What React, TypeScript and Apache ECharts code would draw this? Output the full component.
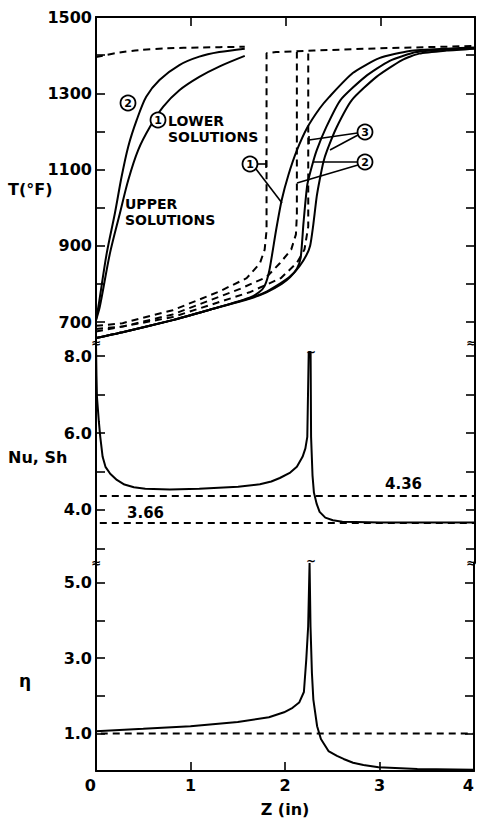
import { useEffect, useRef } from "react";
import * as echarts from "echarts";

// ---------- axis values ----------
const zTicks = [0, 1, 2, 3, 4];
const tTickVals = [700, 800, 900, 1000, 1100, 1200, 1300, 1400, 1500];
const tLabelVals = [700, 900, 1100, 1300, 1500];
const nuTickVals = [3, 4, 5, 6, 7, 8];
const nuLabelVals = [4, 6, 8];
const etaTickVals = [1, 2, 3, 4, 5];
const etaLabelVals = [1, 3, 5];

// ---------- T(°F) panel ----------
const upperSol2 = [
  [0, 705], [0.025, 740], [0.113, 880], [0.2, 986], [0.27, 1081], [0.34, 1160],
  [0.43, 1230], [0.53, 1291], [0.67, 1335], [0.88, 1374], [1.09, 1396], [1.3, 1408], [1.57, 1417],
];
const upperSol1 = [
  [0, 705], [0.04, 740], [0.147, 880], [0.253, 986], [0.34, 1072], [0.445, 1151],
  [0.57, 1212], [0.71, 1265], [0.88, 1308], [1.09, 1343], [1.3, 1370], [1.57, 1398],
];
const upperDashed = [
  [0, 1395], [0.1, 1400], [0.25, 1407], [0.45, 1413], [0.75, 1418], [1.1, 1420], [1.57, 1422],
];
const lowerSol1 = [
  [0, 658], [0.28, 673], [0.81, 705], [1.2, 732], [1.62, 764], [1.72, 778], [1.78, 795],
  [1.83, 836], [1.9, 940], [1.96, 1020], [2.03, 1085], [2.12, 1150], [2.23, 1210], [2.36, 1260],
  [2.46, 1290], [2.71, 1353], [2.99, 1392], [3.31, 1411], [3.7, 1417], [4, 1420],
];
const lowerSol2 = [
  [0, 658], [0.28, 673], [0.81, 705], [1.2, 732], [1.62, 762], [1.8, 780], [1.95, 802],
  [2.05, 820], [2.12, 840], [2.16, 868], [2.19, 960], [2.23, 1060], [2.28, 1110], [2.33, 1151],
  [2.43, 1211], [2.58, 1282], [2.84, 1343], [3.1, 1385], [3.38, 1408], [3.7, 1415], [4, 1419],
];
const lowerSol3 = [
  [0, 658], [0.28, 673], [0.81, 705], [1.2, 732], [1.62, 761], [1.8, 778], [1.96, 800],
  [2.05, 818], [2.15, 847], [2.22, 875], [2.26, 900], [2.29, 949], [2.33, 1030], [2.36, 1072],
  [2.4, 1120], [2.44, 1151], [2.54, 1211], [2.7, 1282], [2.96, 1343], [3.23, 1387], [3.41, 1404],
  [3.7, 1412], [4, 1417],
];
const lowerDash1 = [
  [0, 690], [0.28, 697], [0.81, 731], [1.3, 780], [1.59, 815], [1.73, 854], [1.78, 890],
  [1.8, 940], [1.8, 1405], [1.9, 1408], [2.3, 1412], [3, 1418], [4, 1424],
];
const lowerDash2 = [
  [0, 682], [0.28, 688], [0.81, 720], [1.52, 787], [1.8, 818], [1.94, 854], [2.06, 890],
  [2.11, 930], [2.12, 980], [2.12, 1408],
];
const lowerDash3 = [
  [0, 675], [0.81, 713], [1.62, 778], [1.95, 815], [2.12, 855], [2.2, 890], [2.24, 950],
  [2.24, 1410],
];

// ---------- Nu, Sh panel ----------
const nuCurve = [
  [0, 8.34], [0.005, 7.5], [0.01, 6.94], [0.03, 6.3], [0.045, 5.9], [0.07, 5.38], [0.1, 5.12],
  [0.15, 4.94], [0.22, 4.78], [0.3, 4.66], [0.4, 4.59], [0.52, 4.55], [0.78, 4.53], [1.09, 4.55],
  [1.5, 4.6], [1.73, 4.67], [1.85, 4.74], [1.94, 4.83], [2.05, 4.97], [2.12, 5.12], [2.18, 5.38],
  [2.21, 5.6], [2.23, 5.9], [2.245, 8.1], [2.265, 8.1], [2.27, 5.9], [2.285, 4.9], [2.3, 4.45],
  [2.33, 4.15], [2.36, 3.95], [2.42, 3.8], [2.5, 3.73], [2.6, 3.69], [3.0, 3.67], [4.0, 3.67],
];
const nuLimit = [[0.04, 4.36], [4, 4.36]];
const shLimit = [[0.04, 3.66], [4, 3.66]];

// ---------- eta panel ----------
const etaCurve = [
  [0, 1.06], [0.5, 1.12], [1.0, 1.19], [1.5, 1.3], [1.83, 1.43], [1.99, 1.56], [2.08, 1.68],
  [2.15, 1.82], [2.2, 2.1], [2.225, 2.96], [2.245, 3.84], [2.26, 5.53], [2.27, 3.84],
  [2.285, 2.6], [2.3, 1.9], [2.34, 1.19], [2.38, 0.85], [2.46, 0.53], [2.55, 0.4], [2.62, 0.32],
  [2.72, 0.22], [2.83, 0.16], [2.99, 0.1], [3.4, 0.05], [4, 0.03],
];
const etaRef = [[0.05, 1.0], [4, 1.0]];

const FONT = "DejaVu Sans";

export default function App() {
  const ref = useRef<HTMLDivElement>(null);

  useEffect(() => {
    const chart = echarts.init(ref.current!, null, { renderer: "svg" });

    const yAx = (grid: number, min: number, max: number, pos: string, ticks: number[], labels?: number[], dec?: number) => ({
      type: "value",
      gridIndex: grid,
      min,
      max,
      position: pos,
      axisLine: { show: true, onZero: false, lineStyle: { color: "#000", width: 2 } },
      axisTick: { show: true, inside: true, length: 9, customValues: ticks, lineStyle: { color: "#000", width: 1.6 } },
      axisLabel: labels
        ? {
            show: true,
            customValues: labels,
            formatter: (v: number) => (dec ? v.toFixed(dec) : String(v)),
            margin: 4,
            color: "#000",
            fontFamily: FONT,
            fontWeight: "bold",
            fontSize: 16,
          }
        : { show: false },
      splitLine: { show: false },
    });

    const ln = (data: number[][], xi: number, yi: number, dashed: boolean, smooth: number | boolean = false, width = 2) => ({
      type: "line",
      data,
      xAxisIndex: xi,
      yAxisIndex: yi,
      symbol: "none",
      showSymbol: false,
      smooth,
      silent: true,
      lineStyle: { color: "#000", width, type: dashed ? [7, 5] : "solid" },
    });

    const txt = (text: string, x: number, y: number, size = 15, align = "left", lh?: number) => ({
      type: "text",
      x,
      y,
      z: 100,
      style: {
        text, fontFamily: FONT, fontWeight: "bold", fontSize: size, fill: "#000", align,
        verticalAlign: "middle", lineHeight: lh ?? size + 2,
      },
    });
    const circ = (label: string, cx: number, cy: number) => [
      { type: "circle", z: 100, shape: { cx, cy, r: 7.5 }, style: { fill: "#fff", stroke: "#000", lineWidth: 1.8 } },
      txt(label, cx, cy + 0.5, 11, "center"),
    ];
    const seg = (x1: number, y1: number, x2: number, y2: number) => ({
      type: "line",
      z: 99,
      shape: { x1, y1, x2, y2 },
      style: { stroke: "#000", lineWidth: 1.6 },
    });
    const brk = (x: number, y: number, s = "≈") => txt(s, x, y, 12, "center");

    const option: any = {
      animation: false,
      backgroundColor: "#fff",
      grid: [
        { left: 96, right: 2, top: 17, height: 326 },
        { left: 96, right: 2, top: 343, height: 220 },
        { left: 96, right: 2, top: 563, height: 209 },
      ],
      xAxis: [
        {
          type: "value", gridIndex: 0, min: 0, max: 4, interval: 1, position: "top",
          axisLine: { show: true, onZero: false, lineStyle: { color: "#000", width: 2 } },
          axisTick: { show: true, inside: true, length: 9, customValues: zTicks, lineStyle: { color: "#000", width: 1.6 } },
          axisLabel: { show: false }, splitLine: { show: false },
        },
        { type: "value", gridIndex: 1, min: 0, max: 4, show: false },
        {
          type: "value", gridIndex: 2, min: 0, max: 4, interval: 1, position: "bottom",
          axisLine: { show: true, onZero: false, lineStyle: { color: "#000", width: 2 } },
          axisTick: { show: true, inside: true, length: 9, customValues: zTicks, lineStyle: { color: "#000", width: 1.6 } },
          axisLabel: {
            show: true, customValues: zTicks, margin: 6, color: "#000", fontFamily: FONT, fontWeight: "bold", fontSize: 16,
            alignMinLabel: "right", alignMaxLabel: "right",
          },
          splitLine: { show: false },
          name: "Z (in)", nameLocation: "middle", nameGap: 30,
          nameTextStyle: { color: "#000", fontFamily: FONT, fontWeight: "bold", fontSize: 16 },
        },
      ],
      yAxis: [
        yAx(0, 645, 1500, "left", tTickVals, tLabelVals),
        yAx(0, 645, 1500, "right", tTickVals),
        yAx(1, 2.62, 8.34, "left", nuTickVals, nuLabelVals, 1),
        yAx(1, 2.62, 8.34, "right", nuTickVals),
        yAx(2, 0, 5.53, "left", etaTickVals, etaLabelVals, 1),
        yAx(2, 0, 5.53, "right", etaTickVals),
      ],
      series: [
        ln(upperSol2, 0, 0, false, 0.3),
        ln(upperSol1, 0, 0, false, 0.3),
        ln(upperDashed, 0, 0, true, 0.3),
        ln(lowerSol1, 0, 0, false, 0.2),
        ln(lowerSol2, 0, 0, false, 0.2),
        ln(lowerSol3, 0, 0, false, 0.2),
        ln(lowerDash1, 0, 0, true),
        ln(lowerDash2, 0, 0, true),
        ln(lowerDash3, 0, 0, true),
        ln(nuCurve, 1, 2, false),
        ln(nuLimit, 1, 2, true),
        ln(shLimit, 1, 2, true),
        ln(etaCurve, 2, 4, false),
        ln(etaRef, 2, 4, true),
      ],
      graphic: [
        // axis titles
        txt("T(°F)", 8, 189, 16),
        txt("Nu, Sh", 8, 457, 16),
        txt("η", 19, 681, 17),
        // upper panel annotations
        ...circ("2", 128, 103),
        ...circ("1", 158, 120),
        txt("LOWER\nSOLUTIONS", 168, 129, 14, "left", 16),
        txt("UPPER\nSOLUTIONS", 125, 212, 14, "left", 16),
        ...circ("1", 250, 164),
        seg(257.5, 164, 266, 164),
        seg(266, 160, 266, 168),
        seg(256, 169, 282, 203),
        ...circ("3", 365, 132),
        seg(357.5, 133, 309, 140),
        seg(309, 136, 309, 144),
        seg(358, 135, 330, 150),
        ...circ("2", 365, 162),
        seg(357.5, 162, 313, 162),
        seg(358, 165, 297, 183),
        // limit labels
        txt("4.36", 385, 484, 15),
        txt("3.66", 127, 513, 15),
        // axis breaks
        brk(96, 343), brk(471, 343), brk(96, 563), brk(471, 563),
        brk(311, 352, "~"), brk(311, 561, "~"),
      ],
    };

    chart.setOption(option);
    return () => chart.dispose();
  }, []);

  return (
    <div
      ref={ref}
      style={{ position: "absolute", left: 0, top: 0, width: 477, height: 818, background: "#fff" }}
    />
  );
}
